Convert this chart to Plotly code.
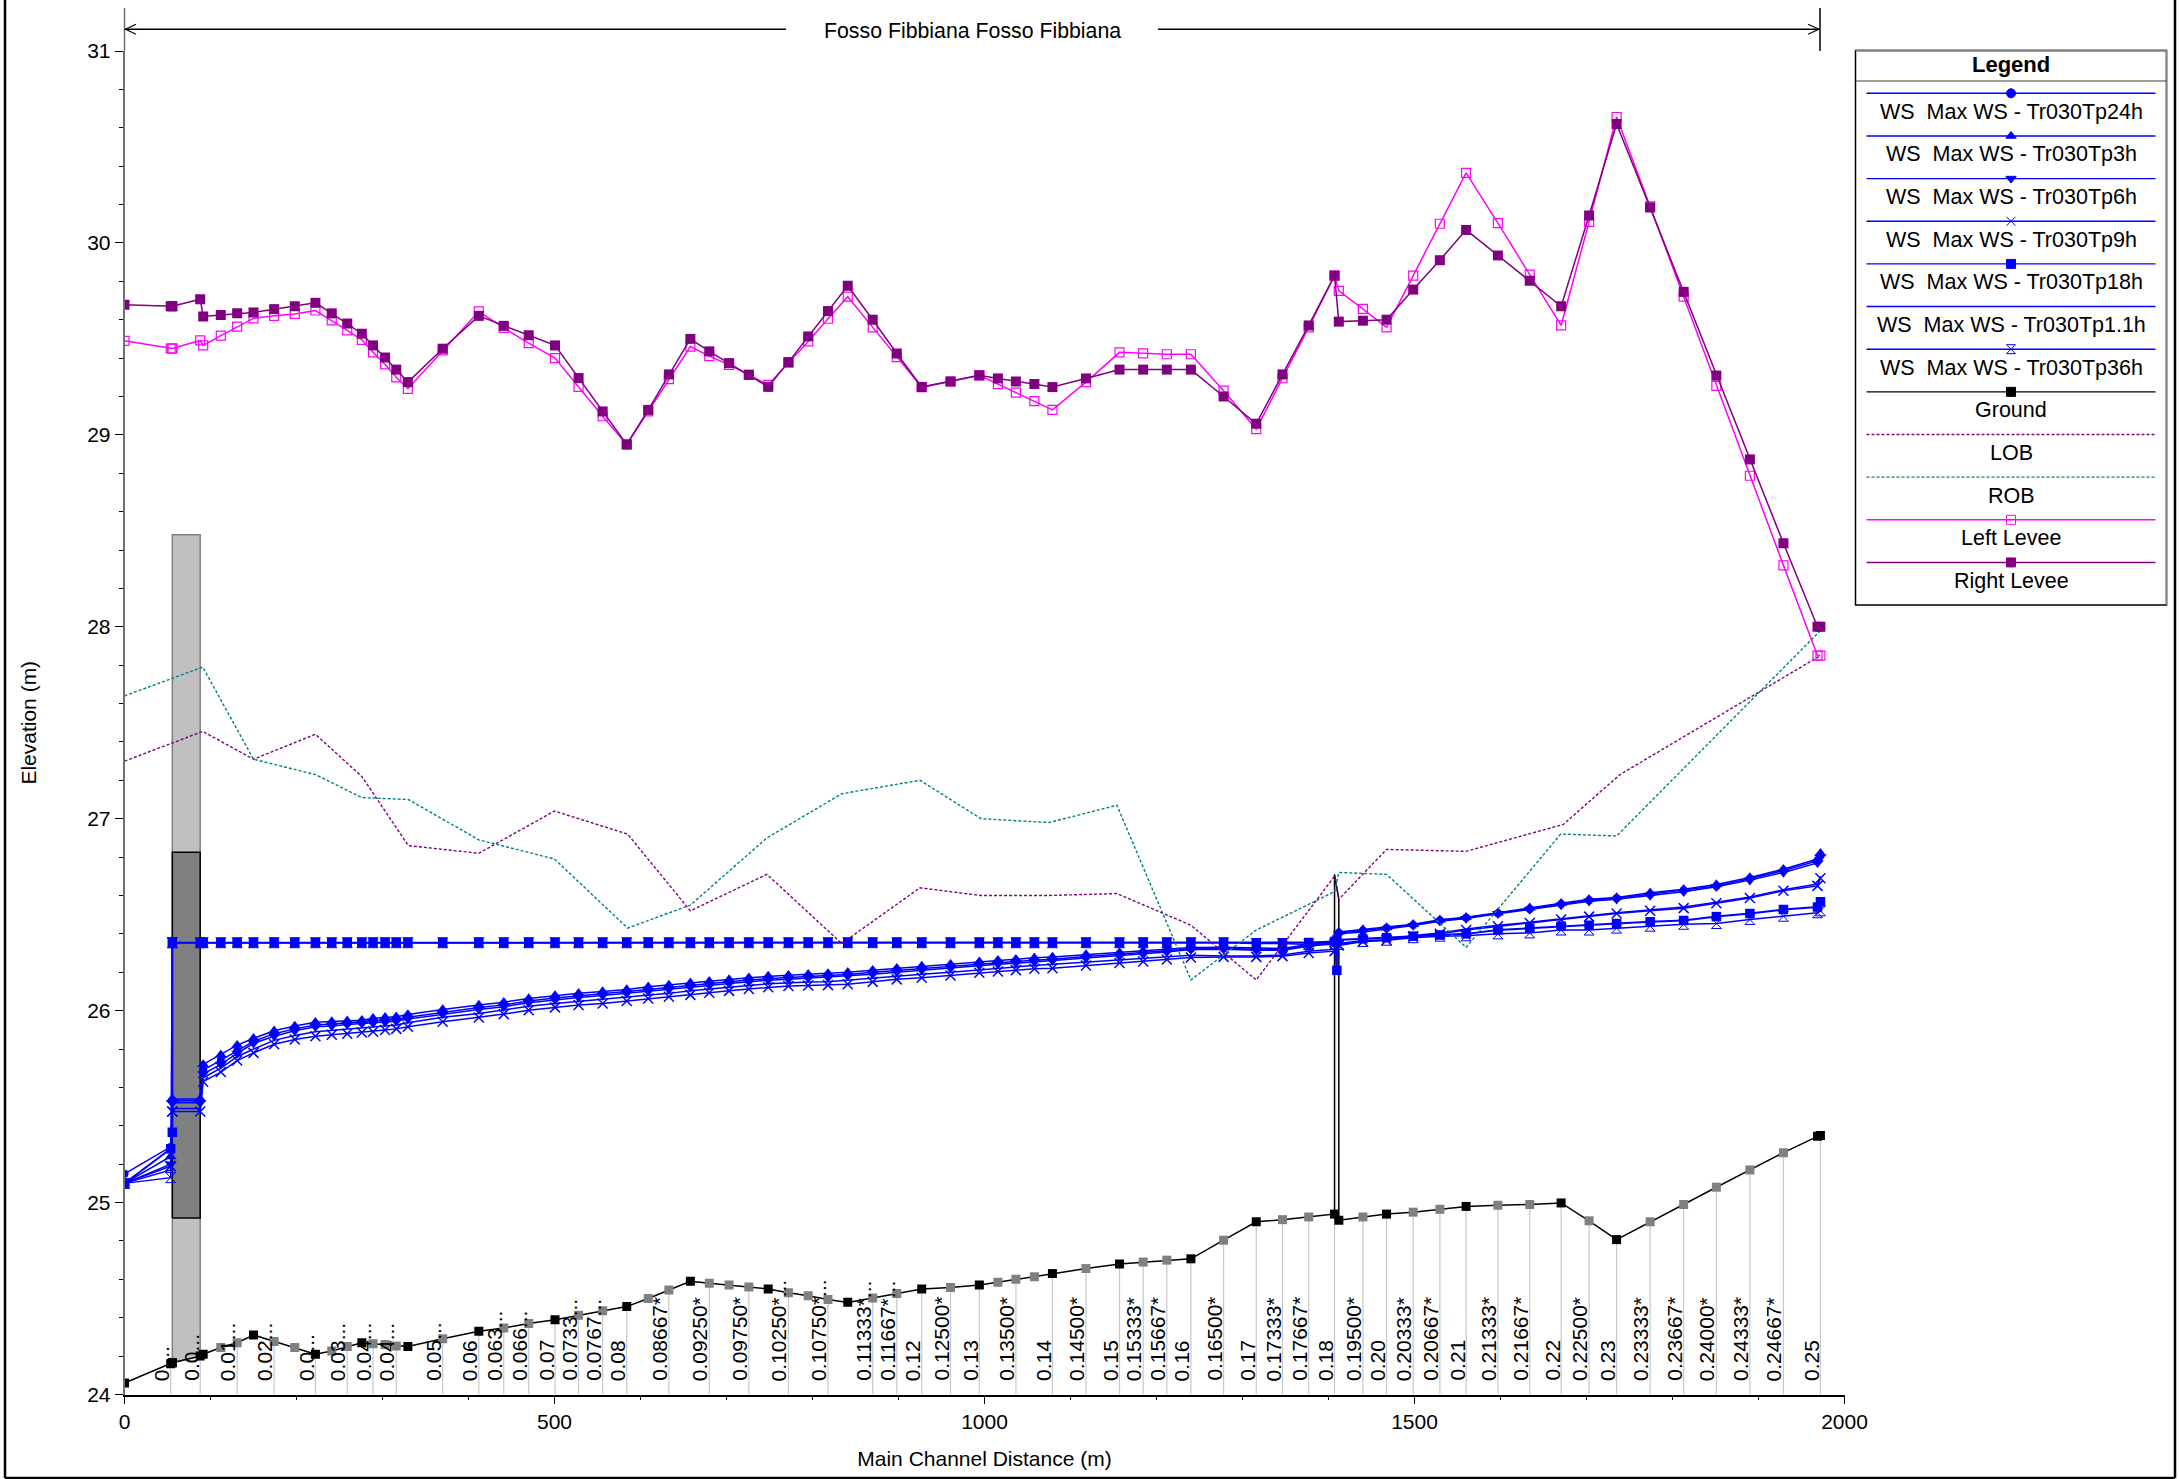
import plotly.graph_objects as go

W, H = 2179, 1479
FONT = "Liberation Sans"

# ---------------- cross-section stations (main channel distance, m)
STATIONS = [0, 53.7, 55.6, 55.6, 88, 91.5, 112, 131, 150, 174, 198, 222, 241, 259, 276, 289, 303, 316, 329.5,
            370, 412, 441, 470, 500.6, 528, 556, 584, 609, 633, 658, 680, 703, 726, 748.5, 772, 795, 818, 841,
            870, 898, 927, 960.5, 994, 1015.6, 1036.5, 1058, 1079, 1118, 1157, 1184.5, 1212, 1240, 1278, 1316,
            1346.5, 1377, 1407, 1412, 1440, 1467.5, 1498.5, 1529.5, 1560, 1597, 1634, 1670.5, 1703, 1735, 1774,
            1813, 1851, 1890, 1929, 1968.6, 1972]

GROUND = [24.06, 24.16, 24.165, 24.165, 24.20, 24.21, 24.245, 24.27, 24.31, 24.276, 24.245, 24.21, 24.227, 24.25,
          24.27, 24.265, 24.26, 24.253, 24.25, 24.29, 24.33, 24.347, 24.37, 24.39, 24.413, 24.436, 24.458, 24.50,
          24.545, 24.59, 24.58, 24.57, 24.56, 24.55, 24.53, 24.515, 24.495, 24.48, 24.503, 24.526, 24.55, 24.557,
          24.57, 24.585, 24.60, 24.613, 24.63, 24.656, 24.68, 24.69, 24.70, 24.707, 24.804, 24.90, 24.911, 24.925,
          24.94, 24.908, 24.925, 24.94, 24.95, 24.965, 24.98, 24.986, 24.99, 24.998, 24.905, 24.807, 24.90, 24.99,
          25.08, 25.17, 25.26, 25.345, 25.35]

INTERPOLATED = [112, 131, 174, 198, 241, 259, 289, 303, 316, 370, 441, 470, 528, 556, 609, 633, 680, 703, 726, 772,
                795, 818, 870, 898, 960.5, 1015.6, 1036.5, 1058, 1118, 1184.5, 1212, 1278, 1346.5, 1377, 1440,
                1498.5, 1529.5, 1597, 1634, 1703, 1774, 1813, 1851, 1890, 1929]

WS_3H = [25.10, 25.24, 25.54, 25.54, 25.54, 25.72, 25.77, 25.82, 25.856, 25.895, 25.92, 25.94, 25.943, 25.947, 25.95,
         25.96, 25.965, 25.968, 25.98, 26.006, 26.029, 26.044, 26.063, 26.079, 26.09, 26.10, 26.11, 26.124, 26.133,
         26.145, 26.153, 26.162, 26.172, 26.18, 26.185, 26.19, 26.194, 26.20, 26.211, 26.221, 26.232, 26.242, 26.255,
         26.263, 26.268, 26.275, 26.28, 26.293, 26.303, 26.312, 26.32, 26.329, 26.33, 26.325, 26.324, 26.345, 26.36,
         26.41, 26.423, 26.433, 26.45, 26.473, 26.487, 26.51, 26.536, 26.56, 26.58, 26.59, 26.614, 26.633, 26.657,
         26.694, 26.737, 26.79, 26.82]
WS_24H = [25.15, 25.29, 25.53, 25.53, 25.53, 25.69, 25.74, 25.79, 25.84, 25.88, 25.905, 25.925, 25.93, 25.936, 25.94,
          25.945, 25.95, 25.955, 25.966, 25.992, 26.016, 26.03, 26.05, 26.066, 26.078, 26.088, 26.10, 26.11, 26.12,
          26.132, 26.14, 26.15, 26.16, 26.168, 26.173, 26.178, 26.182, 26.188, 26.2, 26.21, 26.22, 26.23, 26.244,
          26.251, 26.256, 26.263, 26.268, 26.282, 26.293, 26.302, 26.312, 26.323, 26.325, 26.32, 26.32, 26.34, 26.355,
          26.405, 26.416, 26.43, 26.446, 26.47, 26.484, 26.507, 26.53, 26.555, 26.575, 26.585, 26.607, 26.627, 26.65,
          26.687, 26.73, 26.78, 26.81]
WS_6H = [25.10, 25.20, 25.52, 25.52, 25.52, 25.67, 25.72, 25.777, 25.83, 25.867, 25.895, 25.916, 25.92, 25.928, 25.934,
         25.936, 25.94, 25.945, 25.956, 25.982, 26.006, 26.02, 26.041, 26.055, 26.069, 26.079, 26.09, 26.101, 26.11,
         26.122, 26.131, 26.141, 26.15, 26.159, 26.164, 26.17, 26.173, 26.18, 26.19, 26.20, 26.211, 26.221, 26.235,
         26.242, 26.247, 26.254, 26.26, 26.272, 26.284, 26.294, 26.305, 26.319, 26.32, 26.315, 26.315, 26.336, 26.35,
         26.40, 26.41, 26.425, 26.443, 26.466, 26.48, 26.505, 26.527, 26.55, 26.57, 26.58, 26.60, 26.62, 26.645,
         26.68, 26.72, 26.77, 26.80]
WS_1_1H = [25.10, 25.17, 25.49, 25.49, 25.49, 25.65, 25.70, 25.76, 25.80, 25.845, 25.87, 25.89, 25.897, 25.903, 25.91,
           25.913, 25.92, 25.925, 25.937, 25.965, 25.985, 26.003, 26.023, 26.037, 26.048, 26.058, 26.069, 26.08, 26.09,
           26.103, 26.113, 26.12, 26.131, 26.14, 26.145, 26.149, 26.15, 26.159, 26.169, 26.18, 26.19, 26.20, 26.214,
           26.221, 26.228, 26.235, 26.241, 26.251, 26.263, 26.27, 26.28, 26.289, 26.285, 26.285, 26.29, 26.31, 26.32,
           26.35, 26.365, 26.37, 26.392, 26.405, 26.425, 26.445, 26.46, 26.48, 26.495, 26.51, 26.525, 26.54, 26.565,
           26.592, 26.63, 26.66, 26.70]
WS_9H = [25.10, 25.19, 25.475, 25.475, 25.475, 25.63, 25.68, 25.74, 25.78, 25.825, 25.85, 25.867, 25.874, 25.88, 25.886,
         25.89, 25.899, 25.905, 25.916, 25.942, 25.964, 25.982, 26.002, 26.017, 26.029, 26.037, 26.05, 26.063, 26.072,
         26.082, 26.093, 26.103, 26.113, 26.122, 26.128, 26.131, 26.133, 26.138, 26.15, 26.163, 26.171, 26.183, 26.197,
         26.204, 26.211, 26.218, 26.221, 26.235, 26.248, 26.256, 26.266, 26.277, 26.28, 26.28, 26.284, 26.30, 26.31,
         26.34, 26.36, 26.367, 26.388, 26.40, 26.42, 26.44, 26.457, 26.475, 26.49, 26.506, 26.52, 26.534, 26.56,
         26.587, 26.625, 26.65, 26.69]
# the 18 h profile has one extra pair of points inside the second structure
WS_18H_X = STATIONS[:57] + [1409.7, 1409.7] + STATIONS[58:]
WS_18H = [25.10, 25.28, 25.366, 26.354, 26.354, 26.354, 26.354, 26.354, 26.354, 26.354, 26.354, 26.354, 26.354, 26.354,
          26.354, 26.354, 26.354, 26.354, 26.354, 26.354, 26.354, 26.354, 26.354, 26.354, 26.354, 26.354, 26.354,
          26.354, 26.354, 26.354, 26.354, 26.354, 26.354, 26.354, 26.354, 26.354, 26.354, 26.354, 26.354, 26.354,
          26.354, 26.354, 26.354, 26.354, 26.354, 26.354, 26.354, 26.354, 26.354, 26.354, 26.354, 26.354, 26.354,
          26.352, 26.352, 26.355, 26.36, 26.21, 26.368, 26.374, 26.38, 26.388, 26.394, 26.40, 26.42, 26.43, 26.44,
          26.445, 26.454, 26.463, 26.47, 26.49, 26.506, 26.527, 26.54, 26.567]
WS_36H = [25.10, 25.13, 26.354, 26.354, 26.354, 26.354, 26.354, 26.354, 26.354, 26.354, 26.354, 26.354, 26.354, 26.354,
          26.354, 26.354, 26.354, 26.354, 26.354, 26.354, 26.354, 26.354, 26.354, 26.354, 26.354, 26.354, 26.354,
          26.354, 26.354, 26.354, 26.354, 26.354, 26.354, 26.354, 26.354, 26.354, 26.354, 26.354, 26.354, 26.354,
          26.354, 26.354, 26.354, 26.354, 26.354, 26.354, 26.354, 26.354, 26.354, 26.354, 26.354, 26.354, 26.354,
          26.35, 26.35, 26.345, 26.345, 26.345, 26.36, 26.367, 26.38, 26.388, 26.39, 26.40, 26.405, 26.42, 26.42,
          26.43, 26.44, 26.45, 26.454, 26.475, 26.492, 26.51, 26.52]

LEFT_LEVEE = [29.49, 29.45, 29.45, 29.45, 29.492, 29.466, 29.517, 29.564, 29.607, 29.62, 29.63, 29.648, 29.596, 29.544,
              29.495, 29.43, 29.367, 29.30, 29.24, 29.44, 29.643, 29.557, 29.478, 29.40, 29.25, 29.097, 28.95, 29.122,
              29.29, 29.46, 29.41, 29.365, 29.313, 29.26, 29.376, 29.487, 29.605, 29.72, 29.56, 29.405, 29.249, 29.278,
              29.31, 29.264, 29.22, 29.176, 29.13, 29.275, 29.43, 29.425, 29.42, 29.42, 29.23, 29.03, 29.295, 29.56,
              29.83, 29.75, 29.656, 29.56, 29.83, 30.10, 30.365, 30.103, 29.835, 29.57, 30.11, 30.656, 30.19, 29.72,
              29.255, 28.787, 28.32, 27.85, 27.85]
RIGHT_LEVEE = [29.678, 29.67, 29.67, 29.67, 29.707, 29.617, 29.625, 29.633, 29.638, 29.655, 29.67, 29.688, 29.633, 29.58,
               29.527, 29.466, 29.403, 29.34, 29.275, 29.449, 29.62, 29.568, 29.519, 29.466, 29.296, 29.122, 28.95, 29.13,
               29.315, 29.50, 29.435, 29.374, 29.313, 29.25, 29.379, 29.513, 29.645, 29.777, 29.60, 29.424, 29.249, 29.278,
               29.31, 29.294, 29.278, 29.265, 29.249, 29.294, 29.34, 29.34, 29.34, 29.34, 29.2, 29.058, 29.315, 29.57,
               29.83, 29.59, 29.595, 29.60, 29.757, 29.91, 30.068, 29.935, 29.803, 29.67, 30.143, 30.62, 30.184, 29.745,
               29.309, 28.872, 28.435, 28.0, 28.0]

LOB_X = [0, 91, 150, 222, 276, 330, 412, 500, 585, 658, 747, 834, 925, 996, 1075, 1154, 1240, 1316, 1407, 1412, 1467.5,
         1560, 1673, 1739, 1972]
LOB = [27.30, 27.455, 27.31, 27.44, 27.22, 26.86, 26.82, 27.04, 26.92, 26.52, 26.71, 26.35, 26.64, 26.60, 26.60, 26.61,
       26.445, 26.16, 26.70, 26.58, 26.84, 26.83, 26.97, 27.23, 27.85]
ROB_X = [0, 91, 150, 222, 276, 330, 412, 500, 585, 658, 747, 834, 925, 996, 1075, 1154, 1240, 1316, 1407, 1412, 1467.5,
         1560, 1670, 1735, 1972]
ROB = [27.64, 27.79, 27.31, 27.23, 27.11, 27.10, 26.89, 26.79, 26.43, 26.55, 26.90, 27.13, 27.20, 27.00, 26.98, 27.07,
       26.16, 26.42, 26.62, 26.72, 26.71, 26.33, 26.92, 26.91, 27.98]

# structures
DECK_X = [55.6, 55.6, 88, 88, 55.6]
DECK_Y = [24.165, 28.48, 28.48, 24.20, 24.165]
OPEN_X = [55.6, 55.6, 88, 88, 55.6]
OPEN_Y = [24.92, 26.825, 26.825, 24.92, 24.92]
WEIR_X = [1407, 1407, 1412, 1412, 1407]
WEIR_Y = [24.94, 26.71, 26.58, 24.908, 24.94]

# station labels along the channel bed
LABEL_X = [53.7, 88, 131, 174, 222, 259, 289, 316, 370, 412, 441, 470, 500.6, 528, 556, 584, 633, 680, 726, 772, 818,
           870, 898, 927, 960.5, 994, 1036.5, 1079, 1118, 1157, 1184.5, 1212, 1240, 1278, 1316, 1346.5, 1377, 1407,
           1440, 1467.5, 1498.5, 1529.5, 1560, 1597, 1634, 1670.5, 1703, 1735, 1774, 1813, 1851, 1890, 1929, 1972]
LABELS = ["0....", "0.0...", "0.01...", "0.02...", "0.0...", "0.03...", "0.04...", "0.04...", "0.05...", "0.06",
          "0.063...", "0.066...", "0.07", "0.0733...", "0.0767...", "0.08", "0.08667*", "0.09250*", "0.09750*",
          "0.10250*...", "0.10750*...", "0.11333*...", "0.11667*...", "0.12", "0.12500*", "0.13", "0.13500*", "0.14",
          "0.14500*", "0.15", "0.15333*", "0.15667*", "0.16", "0.16500*", "0.17", "0.17333*", "0.17667*", "0.18",
          "0.19500*", "0.20", "0.20333*", "0.20667*", "0.21", "0.21333*", "0.21667*", "0.22", "0.22500*", "0.23",
          "0.23333*", "0.23667*", "0.24000*", "0.24333*", "0.24667*", "0.25"]

X_TICKS = [0, 500, 1000, 1500, 2000]
Y_TICKS = [24, 25, 26, 27, 28, 29, 30, 31]
REACH_TITLE = "Fosso Fibbiana Fosso Fibbiana"
LEGEND_NAMES = ["WS  Max WS - Tr030Tp24h", "WS  Max WS - Tr030Tp3h", "WS  Max WS - Tr030Tp6h", "WS  Max WS - Tr030Tp9h",
                "WS  Max WS - Tr030Tp18h", "WS  Max WS - Tr030Tp1.1h", "WS  Max WS - Tr030Tp36h", "Ground", "LOB", "ROB",
                "Left Levee", "Right Levee"]

BLUE, MAG, PUR, TEAL = "#0000FF", "#FF00FF", "#800080", "#008080"

# ---------------- page geometry (pixels)
AX_L, AX_R, AX_B, AX_T = 124.5, 1844.5, 1394.5, 51.0
fx = lambda p: p / W
fy = lambda p: 1 - p / H

fig = go.Figure()


def poly(name, x, y, fill, edge, width):
    fig.add_trace(go.Scatter(x=x, y=y, mode="lines", fill="toself", fillcolor=fill, name=name,
                             line=dict(color=edge, width=width), showlegend=False, hoverinfo="skip"))


poly("Deck", DECK_X, DECK_Y, "#C0C0C0", "#808080", 1.5)
poly("Opening", OPEN_X, OPEN_Y, "#808080", "#000000", 1.5)
poly("Weir", WEIR_X, WEIR_Y, "#F2F2F2", "#000000", 1.5)

# hash lines from axis to the ground at each labelled station
ground_at = dict(zip(STATIONS, GROUND))
hx, hy = [], []
for s in LABEL_X:
    hx += [s, s, None]
    hy += [24, ground_at[s], None]
fig.add_trace(go.Scatter(x=hx, y=hy, mode="lines", line=dict(color="#C8C8C8", width=1.2), name="Stations",
                         showlegend=False, hoverinfo="skip"))


def ws(name, x, y, symbol, size, width=1.5, mline=0):
    mode = "lines+markers" if symbol else "lines"
    fig.add_trace(go.Scatter(x=x, y=y, mode=mode, name=name, showlegend=False,
                             line=dict(color=BLUE, width=width),
                             marker=dict(symbol=symbol or "circle", size=size, color=BLUE,
                                         line=dict(color=BLUE, width=mline))))


ws(LEGEND_NAMES[0], STATIONS, WS_24H, "circle", 8)
ws(LEGEND_NAMES[1], STATIONS, WS_3H, "triangle-up", 10.5)
ws(LEGEND_NAMES[2], STATIONS, WS_6H, "triangle-down", 10.5)
ws(LEGEND_NAMES[3], STATIONS, WS_9H, "x-thin", 10, mline=1.5)
ws(LEGEND_NAMES[5], STATIONS, WS_1_1H, None, 1)
ws(LEGEND_NAMES[6], STATIONS, WS_36H, "hourglass-open", 10, mline=1)
ws(LEGEND_NAMES[4], WS_18H_X, WS_18H, "square", 9.5, width=2)

ground_colors = ["#808080" if s in INTERPOLATED else "#000000" for s in STATIONS]
fig.add_trace(go.Scatter(x=STATIONS, y=GROUND, mode="lines+markers", name="Ground", showlegend=False,
                         line=dict(color="#000000", width=1.5),
                         marker=dict(symbol="square", size=9, color=ground_colors)))
fig.add_trace(go.Scatter(x=LOB_X, y=LOB, mode="lines", name="LOB", showlegend=False,
                         line=dict(color=PUR, width=1.4, dash="3px,2px")))
fig.add_trace(go.Scatter(x=ROB_X, y=ROB, mode="lines", name="ROB", showlegend=False,
                         line=dict(color=TEAL, width=1.4, dash="3px,2px")))
fig.add_trace(go.Scatter(x=STATIONS, y=LEFT_LEVEE, mode="lines+markers", name="Left Levee", showlegend=False,
                         line=dict(color=MAG, width=1.5),
                         marker=dict(symbol="square-open", size=9, color=MAG, line=dict(color=MAG, width=1.2))))
fig.add_trace(go.Scatter(x=STATIONS, y=RIGHT_LEVEE, mode="lines+markers", name="Right Levee", showlegend=False,
                         line=dict(color=PUR, width=1.5),
                         marker=dict(symbol="square", size=10, color=PUR)))

# ---------------- drawn legend (line above text, as in the reference)
LG_L, LG_R, LG_T, LG_HEAD, LG_B = 1855.5, 2166.5, 50.5, 81, 605
ROW0, ROW_STEP, LINE_L, LINE_R, LG_CX = 93.3, 42.65, 1866.5, 2155.5, 2011
rows = [ROW0 + i * ROW_STEP for i in range(12)]
L_COL = [BLUE] * 7 + ["#000000", PUR, TEAL, MAG, PUR]
L_SYM = ["circle", "triangle-up", "triangle-down", "x-thin", "square", None, "hourglass-open", "square", None, None,
         "square-open", "square"]
mx, my, ms, mc = [], [], [], []
for r, c, s in zip(rows, L_COL, L_SYM):
    if s:
        mx.append(LG_CX); my.append(r); ms.append(s); mc.append(c)
fig.add_trace(go.Scatter(x=mx, y=my, mode="markers", xaxis="x2", yaxis="y2", name="Legend samples", showlegend=False,
                         hoverinfo="skip",
                         marker=dict(symbol=ms, size=9, color=mc, line=dict(color=mc, width=1))))

shapes = []


def pline(x0, y0, x1, y1, color="#000000", width=1.5, dash=None):
    shapes.append(dict(type="line", xref="paper", yref="paper", x0=fx(x0), x1=fx(x1), y0=fy(y0), y1=fy(y1),
                       line=dict(color=color, width=width, dash=dash)))


# outer frame
pline(5, 0, 5, 1478, width=2.5)
pline(5, 1478, 2175, 1478, width=2.5)
pline(2175, 0, 2175, 1478, width=2.5)
# extended y axis and reach arrows
pline(AX_L, AX_T, AX_L, 8, color="#707070")
AR_Y = 29.3
pline(AX_L, AR_Y, 786, AR_Y)
pline(1158, AR_Y, 1820, AR_Y)
pline(1820, 8, 1820, 51)
pline(125.5, AR_Y, 136, AR_Y - 5, width=1.2)
pline(125.5, AR_Y, 136, AR_Y + 5, width=1.2)
pline(1819, AR_Y, 1808, AR_Y - 5, width=1.2)
pline(1819, AR_Y, 1808, AR_Y + 5, width=1.2)
# legend box
shapes.append(dict(type="rect", xref="paper", yref="paper", x0=fx(LG_L), x1=fx(LG_R), y0=fy(LG_B), y1=fy(LG_T),
                   line=dict(color="#000000", width=1.5), fillcolor="rgba(0,0,0,0)"))
pline(LG_L, LG_T, LG_R, LG_T, color="#808080", width=2)
pline(LG_R, LG_T, LG_R, LG_B, color="#808080", width=1.5)
pline(LG_L, LG_HEAD, LG_R, LG_HEAD, color="#404040", width=1.2)
for r, c, s, name in zip(rows, L_COL, L_SYM, LEGEND_NAMES):
    pline(LINE_L, r, LINE_R, r, color=c, width=1.4, dash="3px,2px" if name in ("LOB", "ROB") else None)

ann = []
for s, t in zip(LABEL_X, LABELS):
    ann.append(dict(x=s, y=24.06, xref="x", yref="y", text=t, textangle=-90, showarrow=False, xanchor="center",
                    yanchor="bottom", xshift=-9, font=dict(family=FONT, size=21, color="#000000")))
ann.append(dict(x=fx(972), y=fy(31), xref="paper", yref="paper", text=REACH_TITLE, showarrow=False,
                xanchor="center", yanchor="middle", font=dict(family=FONT, size=21.3, color="#000000")))
ann.append(dict(x=fx((LG_L + LG_R) / 2), y=fy(64), xref="paper", yref="paper", text="<b>Legend</b>", showarrow=False,
                xanchor="center", yanchor="middle", font=dict(family=FONT, size=22, color="#000000")))
for r, name in zip(rows, LEGEND_NAMES):
    ann.append(dict(x=fx(LG_CX), y=fy(r + 18.5), xref="paper", yref="paper", text=name.replace("  ", "&nbsp;&nbsp;"),
                    showarrow=False, xanchor="center", yanchor="middle",
                    font=dict(family=FONT, size=21.5, color="#000000")))

fig.update_layout(
    width=W, height=H, autosize=False, showlegend=False,
    paper_bgcolor="white", plot_bgcolor="rgba(0,0,0,0)",
    margin=dict(l=0, r=0, t=0, b=0, autoexpand=False),
    font=dict(family=FONT, size=21, color="#000000"),
    shapes=shapes, annotations=ann,
    xaxis=dict(domain=[fx(AX_L), fx(AX_R)], range=[0, 2000], tickvals=X_TICKS, ticks="outside", ticklen=8, tickwidth=1,
               tickcolor="#000000", showgrid=False, zeroline=False, showline=True, linecolor="#000000", linewidth=1.5,
               minor=dict(dtick=100, ticks="outside", ticklen=4, tickwidth=1, tickcolor="#000000", showgrid=False),
               tickfont=dict(family=FONT, size=21), automargin=False,
               title=dict(text="Main Channel Distance (m)", standoff=19, font=dict(family=FONT, size=21))),
    yaxis=dict(domain=[fy(AX_B), fy(AX_T)], range=[24, 31], tickvals=Y_TICKS, ticks="outside", ticklen=8, tickwidth=1,
               tickcolor="#000000", showgrid=False, zeroline=False, showline=True, linecolor="#707070", linewidth=1.5,
               minor=dict(dtick=0.2, ticks="outside", ticklen=4, tickwidth=1, tickcolor="#000000", showgrid=False),
               tickfont=dict(family=FONT, size=21), automargin=False,
               title=dict(text="Elevation (m)", standoff=45, font=dict(family=FONT, size=21))),
    xaxis2=dict(domain=[0, 1], range=[0, W], visible=False, anchor="y2"),
    yaxis2=dict(domain=[0, 1], range=[H, 0], visible=False, anchor="x2"),
)

fig.write_html("out.html", config=dict(displayModeBar=False), post_script="document.body.style.margin='0';")
